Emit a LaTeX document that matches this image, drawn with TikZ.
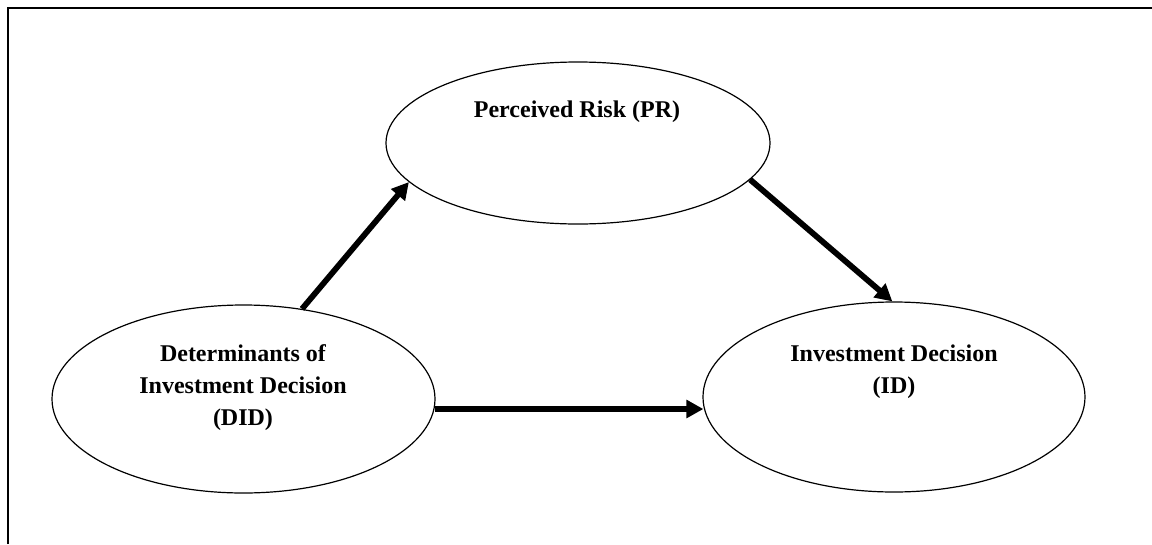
\documentclass[tikz,border=0pt]{standalone}
\usepackage{fontspec}
\setmainfont{Liberation Serif}
\usetikzlibrary{shapes.geometric,arrows.meta}
\begin{document}
\begin{tikzpicture}[x=1pt,y=-1pt,
  oval/.style={ellipse,draw,line width=1.2pt,inner sep=0pt},
  lbl/.style={font=\fontsize{24}{32}\selectfont\bfseries,align=center,inner sep=0pt},
  conn/.style={line width=5.8pt,-{Triangle[length=17pt,width=17.5pt]}},
  frame/.style={line width=2.2pt}]
\useasboundingbox (0,0) rectangle (1152,544);
\draw[frame] (7.8,544) -- (7.8,7.8) -- (1152,7.8);
\node[oval,minimum width=384pt,minimum height=162pt] (PR) at (578,143) {};
\node[oval,minimum width=383pt,minimum height=188pt] (DID) at (243.5,399) {};
\node[oval,minimum width=382pt,minimum height=190pt] (ID) at (894,397) {};
\node[lbl] (PRt) at (577,112) {Perceived Risk (PR)};
\node[lbl] (DIDt) at (243,387.5) {Determinants of\\Investment Decision\\(DID)};
\node[lbl] (IDt) at (894,371.5) {Investment Decision\\(ID)};
\draw[conn] (DID.57) -- (PR.193.5);
\draw[conn] (PR.348) -- (ID.91);
\draw[conn] (DID.-3) -- ([xshift=1pt]DID.-3 -| ID.west);
\end{tikzpicture}
\end{document}
